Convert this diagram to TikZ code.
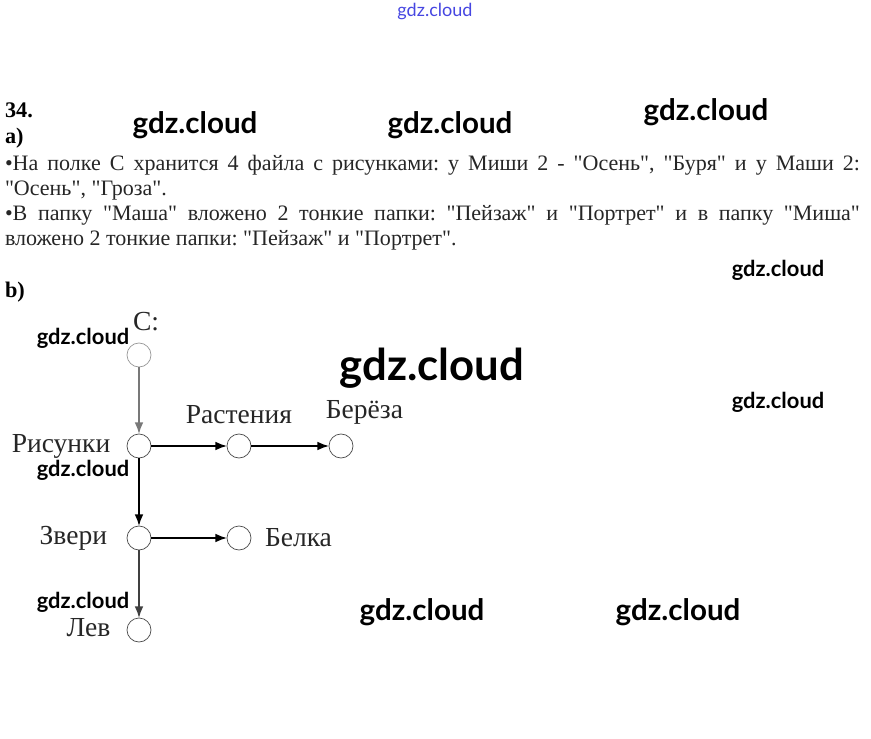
\documentclass[tikz,border=0pt]{standalone}
\usepackage{fontspec}
\setmainfont{Liberation Serif}
\newfontfamily\bodyfont{Liberation Serif}
\newfontfamily\wmfont{Lato}
\usetikzlibrary{arrows.meta,positioning}
\definecolor{wmblue}{RGB}{70,70,225}
\definecolor{linkgray}{RGB}{120,120,120}
\frenchspacing

\begin{document}
\begin{tikzpicture}[x=0.03cm,y=-0.03cm,
    every node/.style={inner sep=0pt,outer sep=0pt},
    folder/.style={circle,draw=black!70,line width=0.6pt,minimum size=0.72cm},
    lbl/.style={font=\fontsize{23.5}{26}\selectfont,text=black!85},
    link/.style={-{Latex[length=10pt,width=7.5pt]},line width=1.3pt},
    head/.style={anchor=base west,font=\bfseries\fontsize{19}{22}\selectfont},
    wm/.style={font=\wmfont\bfseries\fontsize{#1}{#1}\selectfont}]
  \useasboundingbox (0,0) rectangle (871,739);

  % --- Task text ---
  \node[head] (num) at (5,118) {34.};
  \node[head] (parta) at (5,144) {a)};
  \node[anchor=north west,text width=25.65cm,align=justify,
        font=\bodyfont\fontsize{18.8}{21.5}\selectfont,text=black!85] (task) at (5,155)
    {•На полке С хранится 4 файла с рисунками: у Миши 2 - "Осень", "Буря" и у Маши 2:\linebreak
     "Осень", "Гроза".\par
     •В папку "Маша" вложено 2 тонкие папки: "Пейзаж" и "Портрет" и в папку "Миша"\linebreak
     вложено 2 тонкие папки: "Пейзаж" и "Портрет".};
  \node[head] (partb) at (5,298) {b)};

  % --- Folder tree ---
  \node[folder,draw=black!40] (c) at (139,355) {};
  \node[folder] (ris)  at (139,446) {};
  \node[folder] (rast) at (239,446) {};
  \node[folder] (ber)  at (341,446) {};
  \node[folder] (zv)   at (139,538) {};
  \node[folder] (bel)  at (239,538) {};
  \node[folder] (lev)  at (139,630) {};

  \node[lbl,above=0.36cm of c,xshift=6pt] (cl) {C:};
  \node[lbl,left=0.5cm of ris] (risl) {Рисунки};
  \node[lbl,above=0.3cm of rast] (rastl) {Растения};
  \node[lbl,above=0.3cm of ber,xshift=20pt] (berl) {Берёза};
  \node[lbl,left=0.6cm of zv] (zvl) {Звери};
  \node[lbl,right=0.42cm of bel] (bell) {Белка};
  \node[lbl,left=0.5cm of lev,yshift=2pt] (levl) {Лев};

  \draw[link,linkgray] (c) -- (ris);
  \draw[link] (ris) -- (rast);
  \draw[link] (rast) -- (ber);
  \draw[link] (ris) -- (zv);
  \draw[link] (zv) -- (bel);
  \draw[link,black!75] (zv) -- (lev);

  % --- Watermarks ---
  \node[font=\wmfont\fontsize{15.4}{15.4}\selectfont,text=wmblue] (wmtop) at (435,12) {gdz.cloud};
  \foreach \x/\y/\s [count=\i] in {195/125/25.2,450/125/25.2,706/112/25.2,
      778/270/18.7,83/338/18.7,432/368/37.3,778/402/18.7,
      83/470/18.7,83/602/18.7,422/612/25.2,678/612/25.2}
    \node[wm=\s] (wm\i) at (\x,\y) {gdz.cloud};
\end{tikzpicture}
\end{document}
